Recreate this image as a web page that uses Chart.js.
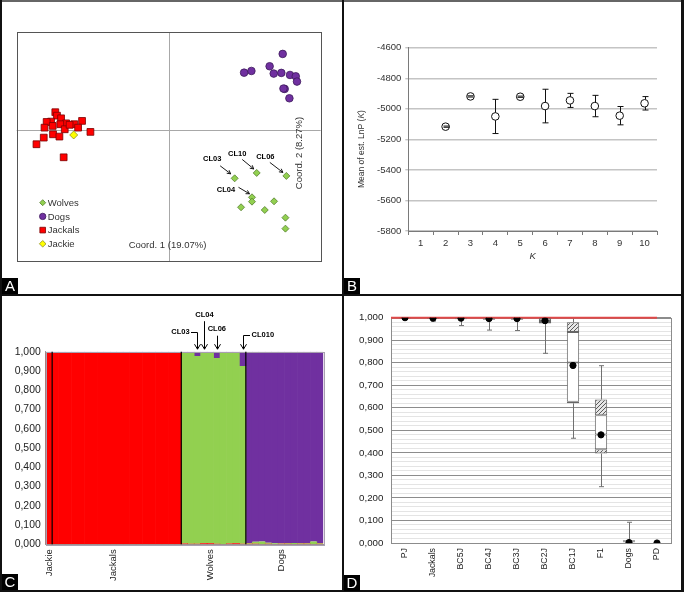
<!DOCTYPE html>
<html><head><meta charset="utf-8">
<script src="https://cdn.jsdelivr.net/npm/chart.js@4/dist/chart.umd.min.js"></script>
<style>
html,body{margin:0;padding:0;background:#fff;}
body{width:685px;height:593px;position:relative;overflow:hidden;font-family:"Liberation Sans",Arial,sans-serif;}
.ln{position:absolute;background:#111;}
canvas{position:absolute;}
.lab{position:absolute;width:16px;height:16px;background:#000;color:#fff;font-size:15px;line-height:16px;text-align:center;}
</style></head><body>
<canvas id="cA" width="340" height="292" style="left:2px;top:2px"></canvas>
<canvas id="cB" width="338" height="292" style="left:344px;top:2px"></canvas>
<canvas id="cC" width="340" height="293" style="left:2px;top:297px"></canvas>
<canvas id="cD" width="338" height="293" style="left:344px;top:297px"></canvas>
<div class="ln" style="left:0;top:0;width:684px;height:2px;background:#666"></div>
<div class="ln" style="left:0;top:0;width:2px;height:592px"></div>
<div class="ln" style="left:681px;top:0;width:3px;height:592px"></div>
<div class="ln" style="left:0;top:590px;width:684px;height:2px"></div>
<div class="ln" style="left:342px;top:0;width:2px;height:592px"></div>
<div class="ln" style="left:0;top:294px;width:684px;height:2px"></div>
<div class="lab" style="left:2px;top:278px">A</div>
<div class="lab" style="left:344px;top:278px">B</div>
<div class="lab" style="left:2px;top:574px">C</div>
<div class="lab" style="left:344px;top:575px">D</div>
<script>
// ---------- Panel A data (PCoA coordinates) ----------
const wolvesX = [0.434,0.579,0.774,0.548,0.548,0.476,0.632,0.693,0.768,0.768];
const wolvesY = [-0.423,-0.376,-0.402,-0.589,-0.627,-0.676,-0.700,-0.624,-0.767,-0.863];
const wolfIds = ['CL03','CL10','CL06','CL04','','','','','',''];
const dogsX = [0.750,0.664,0.496,0.544,0.691,0.741,0.798,0.836,0.844,0.763,0.794,0.755];
const dogsY = [0.665,0.557,0.501,0.516,0.493,0.499,0.481,0.469,0.423,0.359,0.277,0.362];
const jackalsX = [-0.746,-0.735,-0.708,-0.774,-0.803,-0.675,-0.621,-0.570,-0.713,-0.763,-0.817,-0.596,-0.684,-0.515,-0.761,-0.719,-0.822,-0.870,-0.691,-0.652];
const jackalsY = [0.155,0.125,0.102,0.073,0.070,0.058,0.050,0.079,0.050,0.035,0.020,0.020,0.006,-0.017,-0.038,-0.058,-0.067,-0.125,-0.239,0.045];
const jackieX = [-0.625];
const jackieY = [-0.044];
const coord1Title = 'Coord. 1 (19.07%)';
const coord2Title = 'Coord. 2 (8.27%)';

// ---------- Panel B data ----------
const kLabels = ['1','2','3','4','5','6','7','8','9','10'];
const lnpMean = [null,-5117,-4919,-5050,-4921,-4982,-4945,-4982,-5045,-4964];
const lnpSD   = [null,4,4,112,4,110,46,70,60,44];

// ---------- Panel C data (STRUCTURE q-values) ----------
const groupNames = ['Jackie','Jackals','Wolves','Dogs'];
const groupSizes = [1,20,10,12];
const groupLabelAt = [0,10,25,36];
const redJackie = [0.996], greenJackie = [0.002], purpleJackie = [0.002];
const redJackals = [0.998,0.997,0.998,0.996,0.998,0.997,0.998,0.998,0.997,0.998,0.996,0.998,0.997,0.998,0.998,0.997,0.996,0.998,0.997,0.998];
const greenJackals = [0.001,0.001,0.001,0.001,0.001,0.001,0.001,0.001,0.001,0.001,0.001,0.001,0.001,0.001,0.001,0.001,0.001,0.001,0.001,0.001];
const purpleJackals = [0.001,0.002,0.001,0.003,0.001,0.002,0.001,0.001,0.002,0.001,0.003,0.001,0.002,0.001,0.001,0.002,0.003,0.001,0.002,0.001];
const redWolves = [0.004,0.003,0.003,0.006,0.005,0.003,0.002,0.004,0.006,0.003];
const greenWolves = [0.994,0.995,0.975,0.989,0.993,0.964,0.996,0.990,0.992,0.923];
const purpleWolves = [0.002,0.002,0.022,0.005,0.002,0.033,0.002,0.006,0.002,0.074];
const redDogs = [0.003,0.003,0.002,0.003,0.002,0.003,0.003,0.002,0.003,0.003,0.002,0.003];
const greenDogs = [0.004,0.010,0.012,0.005,0.004,0.003,0.004,0.005,0.004,0.004,0.012,0.004];
const purpleDogs = [0.993,0.987,0.986,0.992,0.994,0.994,0.993,0.993,0.993,0.993,0.986,0.993];
const cAnnotLabels = ['CL03','CL04','CL06','CL010'];
const cAnnotBars = [23,24,26,30];

// ---------- Panel D data (box plots) ----------
const dCats = ['PJ','Jackals','BC5J','BC4J','BC3J','BC2J','BC1J','F1','Dogs','PD'];
const dMin       = [0.998,0.985,0.965,0.945,0.943,0.842,0.465,0.250,0.000,null];
const dQ1        = [0.996,0.995,0.993,0.990,0.990,0.974,0.620,0.397,0.002,null];
const dLowHatch  = [0.996,0.995,0.994,0.991,0.991,0.976,0.627,0.416,0.003,null];
const dMedian    = [0.998,0.998,0.997,0.994,0.994,0.985,0.801,0.482,0.005,null];
const dHighHatch = [1.000,1.000,0.999,0.997,0.997,0.995,0.937,0.567,0.009,null];
const dQ3        = [1.000,1.000,1.000,1.000,1.000,1.000,0.980,0.637,0.012,null];
const dMax       = [1.000,1.000,1.000,1.000,1.000,1.000,1.000,0.787,0.092,null];
const dMean      = [1.000,0.998,0.998,0.996,0.996,0.987,0.788,0.480,0.002,0.000];
const dRefLevel = 1.0;

// ================= setup =================
const FAM = '"Liberation Sans", Arial, sans-serif';
Chart.defaults.font.family = FAM;
Chart.defaults.animation = false;
Chart.defaults.responsive = false;
Chart.defaults.devicePixelRatio = 1;
Chart.defaults.plugins.legend.display = false;
Chart.defaults.plugins.tooltip.enabled = false;
const xy = (xs, ys) => xs.map((v, i) => ({x: v, y: ys[i]}));
const comma3 = v => v.toFixed(3).replace('.', ',');

function frame(ctx, a, color) {
  ctx.save(); ctx.strokeStyle = color; ctx.lineWidth = 1;
  ctx.strokeRect(Math.round(a.left) + 0.5, Math.round(a.top) + 0.5, Math.round(a.right - a.left), Math.round(a.bottom - a.top));
  ctx.restore();
}
function arrowHead(ctx, x1, y1, x2, y2, s) {
  const ang = Math.atan2(y2 - y1, x2 - x1);
  ctx.moveTo(x2 - s * Math.cos(ang - 0.5), y2 - s * Math.sin(ang - 0.5));
  ctx.lineTo(x2, y2);
  ctx.lineTo(x2 - s * Math.cos(ang + 0.5), y2 - s * Math.sin(ang + 0.5));
}

// ================= Panel A =================
const styleA = {
  Wolves:  {pointStyle:'rectRot', pointRadius:3.5, backgroundColor:'#92d050', borderColor:'#557f2e', borderWidth:0.8, legendR:3},
  Dogs:    {pointStyle:'circle',  pointRadius:3.8, backgroundColor:'#7030a0', borderColor:'#3e1a5c', borderWidth:0.8, legendR:3.2},
  Jackals: {pointStyle:'rect',    pointRadius:4.8, backgroundColor:'#ff0000', borderColor:'#7a0000', borderWidth:0.8, legendR:4},
  Jackie:  {pointStyle:'rectRot', pointRadius:4, backgroundColor:'#ffff00', borderColor:'#8f8f20', borderWidth:0.8, legendR:3.3}
};
const legendOrderA = ['Wolves','Dogs','Jackals','Jackie'];
const annotA = {CL03:{s:[-14.5,-12.5], e:[-4,-4.5], t:[-22.5,-19.3]},
                CL10:{s:[-14.5,-13.5], e:[-3,-4], t:[-19.5,-19.3]},
                CL06:{s:[-16.5,-13.5], e:[-3.5,-3.5], t:[-21,-19.3]},
                CL04:{s:[-13.5,-10], e:[-2.5,-3.5], t:[-26,-7]}};
const mk = (label, data) => Object.assign({label, data}, styleA[label]);
new Chart(document.getElementById('cA'), {
  type: 'scatter',
  data: {datasets: [
    mk('Jackie', xy(jackieX, jackieY)),
    mk('Wolves', xy(wolvesX, wolvesY)),
    mk('Dogs', xy(dogsX, dogsY)),
    mk('Jackals', xy(jackalsX, jackalsY))
  ]},
  options: {
    layout: {padding: {left: 14.7, right: 21.3, top: 30.3, bottom: 33}},
    scales: {x: {type:'linear', min:-1, max:1, display:false}, y: {type:'linear', min:-1.146, max:0.854, display:false}}
  },
  plugins: [{
    id: 'pa',
    beforeDatasetsDraw(chart) {
      const {ctx, chartArea: a, scales: {x, y}} = chart;
      ctx.save();
      ctx.strokeStyle = '#a8a8a8'; ctx.lineWidth = 1;
      const x0 = Math.round(x.getPixelForValue(0)) + 0.5, y0 = Math.round(y.getPixelForValue(0)) + 0.5;
      ctx.beginPath(); ctx.moveTo(x0, a.top); ctx.lineTo(x0, a.bottom); ctx.moveTo(a.left, y0); ctx.lineTo(a.right, y0); ctx.stroke();
      ctx.restore();
      frame(ctx, a, '#555');
      ctx.save();
      ctx.fillStyle = '#333'; ctx.font = '9.5px ' + FAM; ctx.textAlign = 'center'; ctx.textBaseline = 'middle';
      ctx.fillText(coord1Title, x0 - 2, a.bottom - 16);
      ctx.translate(a.right - 21.7, y0 + 22.5); ctx.rotate(-Math.PI / 2);
      ctx.fillText(coord2Title, 0, 0);
      ctx.restore();
    },
    afterDatasetsDraw(chart) {
      const {ctx, chartArea: a} = chart;
      ctx.save();
      legendOrderA.forEach((name, i) => {
        const st = styleA[name];
        const yy = a.bottom - 58.3 + i * 13.7;
        ctx.fillStyle = st.backgroundColor; ctx.strokeStyle = st.borderColor; ctx.lineWidth = st.borderWidth;
        Chart.helpers.drawPoint(ctx, {pointStyle: st.pointStyle, radius: st.legendR, rotation: 0, borderWidth: st.borderWidth}, a.left + 26, yy);
        ctx.fillStyle = '#333'; ctx.font = '9.5px ' + FAM; ctx.textAlign = 'left'; ctx.textBaseline = 'middle';
        ctx.fillText(name, a.left + 31, yy + 0.5);
      });
      const wi = chart.data.datasets.findIndex(d => d.label === 'Wolves');
      const meta = chart.getDatasetMeta(wi);
      ctx.strokeStyle = '#000'; ctx.fillStyle = '#000'; ctx.lineWidth = 0.9;
      ctx.font = 'bold 7.5px ' + FAM; ctx.textAlign = 'center'; ctx.textBaseline = 'middle';
      wolfIds.forEach((id, i) => {
        if (!id || !annotA[id]) return;
        const p = meta.data[i], an = annotA[id];
        const sx = p.x + an.s[0], sy = p.y + an.s[1], ex = p.x + an.e[0], ey = p.y + an.e[1];
        ctx.beginPath(); ctx.moveTo(sx, sy); ctx.lineTo(ex, ey); arrowHead(ctx, sx, sy, ex, ey, 4); ctx.stroke();
        ctx.fillText(id, p.x + an.t[0], p.y + an.t[1]);
      });
      ctx.restore();
    }
  }]
});

// ================= Panel B =================
new Chart(document.getElementById('cB'), {
  type: 'line',
  data: {labels: kLabels, datasets: [{data: lnpMean, showLine: false, pointStyle: 'circle', pointRadius: 3.8,
    pointBackgroundColor: '#fff', pointBorderColor: '#111', pointBorderWidth: 1}]},
  options: {
    layout: {padding: {left: 0, right: 25, top: 45.7, bottom: 27}},
    scales: {
      x: {type: 'category', offset: true,
          grid: {offset: true, drawOnChartArea: false, tickLength: 4, color: '#7a7a7a'},
          border: {color: '#7a7a7a'},
          ticks: {font: {size: 9.5}, color: '#333', padding: 3},
          title: {display: true, text: 'K', font: {size: 9.5, style: 'italic'}, color: '#333', padding: {top: 0, bottom: 5}},
          afterFit(s) { s.height = 36; }},
      y: {min: -5800, max: -4600,
          ticks: {stepSize: 200, callback: v => String(v), font: {size: 9.5}, color: '#333', padding: 4},
          grid: {color: '#c4c4c4', lineWidth: 1.4, tickLength: 3},
          border: {color: '#7a7a7a'},
          afterFit(s) { s.width = 64.3; }}
    }
  },
  plugins: [{
    id: 'pb',
    afterDatasetsDraw(chart) {
      const {ctx, chartArea: a, scales: {x, y}} = chart;
      ctx.save(); ctx.strokeStyle = '#111'; ctx.lineWidth = 1;
      const r = 3.8;
      lnpMean.forEach((m, i) => {
        if (m == null) return;
        const sd = lnpSD[i];
        const px = Math.round(x.getPixelForValue(i)) + 0.5;
        const pc = y.getPixelForValue(m), pt = y.getPixelForValue(m + sd), pb = y.getPixelForValue(m - sd);
        ctx.beginPath();
        if (pc - pt > r) { ctx.moveTo(px, pt); ctx.lineTo(px, pc - r); }
        if (pb - pc > r) { ctx.moveTo(px, pc + r); ctx.lineTo(px, pb); }
        ctx.moveTo(px - 3, pt); ctx.lineTo(px + 3, pt);
        ctx.moveTo(px - 3, pb); ctx.lineTo(px + 3, pb);
        ctx.stroke();
      });
      ctx.translate(a.left - 46.3, (a.top + a.bottom) / 2 + 9.7);
      ctx.rotate(-Math.PI / 2);
      const f1 = '8.5px ' + FAM, f2 = 'italic 8.5px ' + FAM;
      const parts = [['Mean of est. LnP (', f1], ['K', f2], [')', f1]];
      let w = 0; parts.forEach(p => { ctx.font = p[1]; w += ctx.measureText(p[0]).width; });
      let xx = -w / 2; ctx.textBaseline = 'middle'; ctx.fillStyle = '#333'; ctx.textAlign = 'left';
      parts.forEach(p => { ctx.font = p[1]; ctx.fillText(p[0], xx, 0); xx += ctx.measureText(p[0]).width; });
      ctx.restore();
    }
  }]
});

// ================= Panel C =================
const individuals = [];
groupNames.forEach((g, gi) => { for (let k = 0; k < groupSizes[gi]; k++) individuals.push(g + ' ' + (k + 1)); });
const qRed = [].concat(redJackie, redJackals, redWolves, redDogs);
const qGreen = [].concat(greenJackie, greenJackals, greenWolves, greenDogs);
const qPurple = [].concat(purpleJackie, purpleJackals, purpleWolves, purpleDogs);
const barOpt = {categoryPercentage: 1, barPercentage: 1.1, borderWidth: 0, inflateAmount: 0};
new Chart(document.getElementById('cC'), {
  type: 'bar',
  data: {labels: individuals, datasets: [
    Object.assign({data: qRed, backgroundColor: '#ff0000'}, barOpt),
    Object.assign({data: qGreen, backgroundColor: '#92d050'}, barOpt),
    Object.assign({data: qPurple, backgroundColor: '#7030a0'}, barOpt)
  ]},
  options: {
    layout: {padding: {left: 0, right: 18.7, top: 54.7, bottom: 5.7}},
    scales: {
      x: {stacked: true, grid: {display: false, drawTicks: false}, border: {color: '#999'},
          ticks: {autoSkip: false, minRotation: 90, maxRotation: 90, font: {size: 9.5}, color: '#222', padding: 5,
                  callback: (v, i) => { const g = groupLabelAt.indexOf(i); return g >= 0 ? groupNames[g] : ''; }},
          afterFit(s) { s.height = 40; }},
      y: {stacked: true, min: 0, max: 1,
          ticks: {stepSize: 0.1, callback: v => comma3(v), font: {size: 10.4}, color: '#222', padding: 5},
          grid: {display: false, drawTicks: false}, border: {color: '#999'},
          afterFit(s) { s.width = 43.7; }}
    }
  },
  plugins: [{
    id: 'pc',
    afterDatasetsDraw(chart) {
      const {ctx, chartArea: a, scales: {x}} = chart;
      frame(ctx, a, '#a8a0b0');
      ctx.save();
      ctx.strokeStyle = '#000'; ctx.lineWidth = 1.2;
      let acc = 0;
      groupSizes.forEach((n, gi) => {
        acc += n;
        if (gi === groupSizes.length - 1) return;
        const px = (x.getPixelForValue(acc - 1) + x.getPixelForValue(acc)) / 2;
        ctx.beginPath(); ctx.moveTo(px, a.top); ctx.lineTo(px, a.bottom); ctx.stroke();
      });
      const geo = {CL03: {t: [-17, -20], elbow: -6.5}, CL04: {t: [0, -36.7], start: -30.5},
                   CL06: {t: [-0.7, -22.7], start: -16}, CL010: {t: [19.3, -16.7], elbow: 6.5}};
      ctx.lineWidth = 1; ctx.fillStyle = '#000';
      ctx.font = 'bold 7.5px ' + FAM; ctx.textAlign = 'center'; ctx.textBaseline = 'middle';
      cAnnotLabels.forEach((lab, k) => {
        const g = geo[lab];
        const px = Math.round(x.getPixelForValue(cAnnotBars[k])) + 0.5;
        const tip = a.top - 2.5;
        ctx.beginPath();
        if (g.elbow !== undefined) {
          const yy = Math.round(a.top + g.t[1]) + 0.5;
          ctx.moveTo(px + g.elbow, yy); ctx.lineTo(px, yy); ctx.lineTo(px, tip);
        } else {
          ctx.moveTo(px, a.top + g.start); ctx.lineTo(px, tip);
        }
        ctx.moveTo(px - 3, tip - 5); ctx.lineTo(px, tip); ctx.lineTo(px + 3, tip - 5);
        ctx.stroke();
        ctx.fillText(lab, px + g.t[0], a.top + g.t[1]);
      });
      ctx.restore();
    }
  }]
});

// ================= Panel D =================
function hatch() {
  const c = document.createElement('canvas'); c.width = c.height = 4;
  const g = c.getContext('2d');
  g.fillStyle = '#e6e6e6'; g.fillRect(0, 0, 4, 4);
  g.strokeStyle = '#5a5a5a'; g.lineWidth = 1;
  g.beginPath(); g.moveTo(-1, 1); g.lineTo(1, -1); g.moveTo(0, 4); g.lineTo(4, 0); g.moveTo(3, 5); g.lineTo(5, 3); g.stroke();
  return g.createPattern(c, 'repeat');
}
const hp = hatch();
const seg = (lo, hi) => lo.map((v, i) => (v == null || hi[i] == null) ? null : [v, hi[i]]);
const boxOpt = {grouped: false, categoryPercentage: 1, barPercentage: 0.44, borderColor: '#666', borderWidth: 1, borderSkipped: false};
const isMajor = v => Math.abs(v * 10 - Math.round(v * 10)) < 1e-6;
new Chart(document.getElementById('cD'), {
  type: 'bar',
  data: {labels: dCats, datasets: [
    {type: 'line', data: dMean, showLine: false, pointStyle: 'circle', pointRadius: 3.1, pointBackgroundColor: '#000', pointBorderColor: '#000'},
    Object.assign({data: seg(dQ1, dLowHatch), backgroundColor: hp}, boxOpt),
    Object.assign({data: seg(dLowHatch, dMedian), backgroundColor: '#fff'}, boxOpt),
    Object.assign({data: seg(dMedian, dHighHatch), backgroundColor: '#fff'}, boxOpt),
    Object.assign({data: seg(dHighHatch, dQ3), backgroundColor: hp}, boxOpt)
  ]},
  options: {
    layout: {padding: {left: 0, right: 11, top: 20.7, bottom: 7}},
    scales: {
      x: {grid: {display: false, drawTicks: false}, border: {color: '#8c8c8c'},
          ticks: {autoSkip: false, minRotation: 90, maxRotation: 90, font: {size: 8.8}, color: '#222', padding: 5},
          afterFit(s) { s.height = 40; }},
      y: {min: 0, max: 1,
          ticks: {stepSize: 0.02, autoSkip: false, callback: v => isMajor(v) ? comma3(v) : '', font: {size: 9.7}, color: '#222', padding: 7.7},
          grid: {drawTicks: false, color: c => isMajor(c.tick.value) ? '#8c8c8c' : '#e4e4e4'},
          border: {color: '#8c8c8c'},
          afterFit(s) { s.width = 47; }}
    }
  },
  plugins: [{
    id: 'pd',
    beforeDatasetsDraw(chart) {
      const {ctx, chartArea: a, scales: {x, y}} = chart;
      frame(ctx, a, '#8c8c8c');
      ctx.save();
      ctx.strokeStyle = '#707070'; ctx.lineWidth = 1;
      dCats.forEach((c, i) => {
        if (dMin[i] == null) return;
        const px = Math.round(x.getPixelForValue(i)) + 0.5;
        const pmin = y.getPixelForValue(dMin[i]), pq1 = y.getPixelForValue(dQ1[i]);
        const pq3 = y.getPixelForValue(dQ3[i]), pmax = y.getPixelForValue(dMax[i]);
        ctx.beginPath();
        ctx.moveTo(px, pq1); ctx.lineTo(px, pmin); ctx.moveTo(px - 2.5, pmin); ctx.lineTo(px + 2.5, pmin);
        ctx.moveTo(px, pq3); ctx.lineTo(px, pmax); ctx.moveTo(px - 2.5, pmax); ctx.lineTo(px + 2.5, pmax);
        ctx.stroke();
      });
      ctx.strokeStyle = '#e04848'; ctx.lineWidth = 2;
      const yr = y.getPixelForValue(dRefLevel);
      ctx.beginPath(); ctx.moveTo(a.left, yr); ctx.lineTo(x.getPixelForValue(dCats.length - 1), yr); ctx.stroke();
      ctx.restore();
    }
  }]
});
</script>
</body></html>
